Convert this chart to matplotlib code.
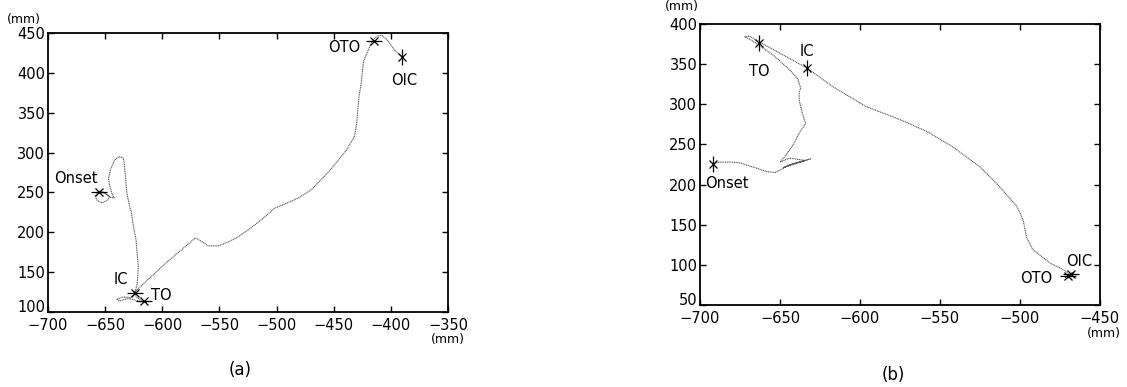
import matplotlib
matplotlib.use("Agg")
import matplotlib.pyplot as plt
import matplotlib.transforms as mtrans
import numpy as np

# ---- panel (a) trajectory (mm) ----
xa = [-656, -650, -646, -648, -653, -657, -659, -655, -651, -646, -642, -644,
      -646, -647, -645, -642, -638, -634, -633, -632, -631, -629, -627, -625,
      -623, -622, -621, -622, -624,
      -628, -634, -640, -637, -630, -624, -619, -614, -617, -622, -625,
      -598, -571, -565, -560, -551, -542, -534, -523, -513, -502, -492,
      -481, -470, -461, -452, -439, -432, -430, -429, -428, -426, -424, -420,
      -416, -412, -408, -403, -396, -390]
ya = [251, 249, 245, 240, 237, 240, 246, 252, 250, 244, 243, 248,
      258, 268, 280, 290, 295, 293, 283, 265, 249, 235, 224, 205,
      191, 172, 157, 135, 124,
      118, 119, 116, 114, 117, 115, 113, 112, 114, 118, 124,
      160, 193, 188, 183, 183, 188, 194, 205, 216, 230, 236,
      243, 253, 266, 280, 303, 320, 336, 353, 370, 387, 414, 428,
      441, 446, 447, 441, 427, 420]

# ---- panel (b) trajectory (mm) ----
xb = [-692, -688, -680, -675, -667, -658, -653, -649, -645, -638, -631, -640,
      -648, -642, -634, -644, -650, -647, -642, -638, -634, -636, -638, -638,
      -637, -639, -644, -649, -654, -662, -668, -672, -669, -664,
      -654, -643, -633, -617, -596, -575, -558, -542, -525, -513, -502,
      -498, -496, -492, -481, -473, -468, -472, -466, -470]
yb = [226, 228, 228, 227, 222, 216, 215, 219, 224, 228, 232, 226,
      221, 226, 230, 233, 228, 235, 249, 264, 276, 289, 305, 315,
      320, 332, 343, 352, 361, 372, 380, 384, 385, 379,
      368, 356, 345, 322, 297, 281, 266, 247, 222, 198, 173,
      156, 135, 119, 102, 94, 88, 84, 90, 86]

# event markers and labels
ev_a = {"Onset": (-655, 251), "IC": (-624, 124), "TO": (-616, 114),
        "OTO": (-415, 440), "OIC": (-390, 420)}
lab_a = {"Onset": (-676, 268), "IC": (-636, 141), "TO": (-601, 121),
         "OTO": (-441, 432), "OIC": (-388, 391)}
ev_b = {"Onset": (-692, 226), "TO": (-663, 376), "IC": (-633, 345),
        "OIC": (-468, 88), "OTO": (-470, 86)}
lab_b = {"Onset": (-683, 201), "TO": (-663, 341), "IC": (-633, 366),
         "OIC": (-463, 104), "OTO": (-490, 83)}

line_col = "#555555"

fig = plt.figure(figsize=(11.27, 3.87), dpi=100)
axa = fig.add_axes([0.0426, 0.1938, 0.355, 0.721])
axb = fig.add_axes([0.6211, 0.2119, 0.3549, 0.726])


def style(ax, xlim, ylim, xt, yt):
    ax.set_xlim(*xlim)
    ax.set_ylim(*ylim)
    ax.set_xticks(xt)
    ax.set_yticks(yt)
    ax.tick_params(direction="in", top=True, right=True, length=4,
                   width=1, labelsize=10.5, pad=2)
    ax.tick_params(axis="x", pad=4)
    for s in ax.spines.values():
        s.set_linewidth(1.3)
    # lift the lowest y label a little so it clears the first x label
    lab = ax.get_yticklabels()[0]
    lab.set_transform(lab.get_transform() +
                      mtrans.ScaledTranslation(0, 4 / 72, fig.dpi_scale_trans))


def star(ax, x, y, bar):
    ax.plot([x], [y], marker="x", ms=6, mew=0.9, color="black")
    ax.plot([x], [y], marker=bar, ms=12, mew=0.9, color="black")


# panel (a)
axa.plot(xa, ya, color=line_col, lw=0.8, ls=(0, (1, 0.6)))
style(axa, (-700, -350), (100, 450), range(-700, -349, 50), range(100, 451, 50))
star(axa, *ev_a["Onset"], "_")
star(axa, *ev_a["IC"], "_")
star(axa, *ev_a["TO"], "_")
star(axa, *ev_a["OTO"], "_")
star(axa, *ev_a["OIC"], "|")
for k, (x, y) in lab_a.items():
    axa.text(x, y, k, fontsize=10.5, ha="center", va="center")
axa.text(-0.06, 1.025, "(mm)", transform=axa.transAxes, fontsize=9,
         ha="center", va="bottom")
axa.text(1.0, -0.075, "(mm)", transform=axa.transAxes, fontsize=9,
         ha="center", va="top")

# panel (b)
axb.plot(xb, yb, color=line_col, lw=0.8, ls=(0, (1, 0.6)))
style(axb, (-700, -450), (50, 400), range(-700, -449, 50), range(50, 401, 50))
star(axb, *ev_b["Onset"], "|")
star(axb, *ev_b["TO"], "|")
star(axb, *ev_b["IC"], "|")
star(axb, *ev_b["OIC"], "_")
star(axb, *ev_b["OTO"], "_")
for k, (x, y) in lab_b.items():
    axb.text(x, y, k, fontsize=10.5, ha="center", va="center")
axb.text(-0.045, 1.04, "(mm)", transform=axb.transAxes, fontsize=9,
         ha="center", va="bottom")
axb.text(1.01, -0.08, "(mm)", transform=axb.transAxes, fontsize=9,
         ha="center", va="top")

fig.text(240 / 1127, 1 - 370 / 387, "(a)", fontsize=12, ha="center", va="center")
fig.text(893 / 1127, 1 - 375 / 387, "(b)", fontsize=12, ha="center", va="center")

fig.savefig("out.png", dpi=100)
